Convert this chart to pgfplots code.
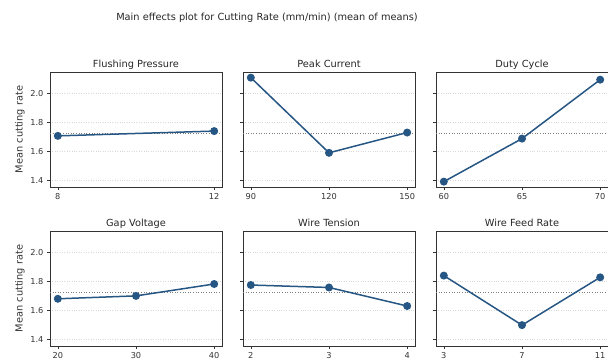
\documentclass[border=0pt]{standalone}
\usepackage{pgfplots}
\pgfplotsset{compat=1.18}
\usepackage{fontspec}
\setmainfont{DejaVu Sans}
\definecolor{lc}{RGB}{38,86,132}
\newcommand{\tickfont}{\fontsize{8.2}{10}\selectfont}
\newcommand{\titlefont}{\fontsize{9.8}{12}\selectfont}
\pgfplotsset{
  me/.style={
    scale only axis, width=172pt, height=115pt,
    anchor=south west,
    ymin=1.356, ymax=2.150,
    ytick={1.4,1.6,1.8,2.0},
    /pgf/number format/assume math mode=true,
    yticklabel style={/pgf/number format/fixed,/pgf/number format/fixed zerofill,/pgf/number format/precision=1},
    ymajorgrids, y grid style={dotted, gray!30, line width=0.5pt},
    tick align=outside, tick pos=left,
    major tick length=3pt,
    every tick/.style={black!80, line width=0.6pt},
    axis line style={black!80, line width=0.7pt},
    tick label style={font=\tickfont, text=black!80},
    label style={font=\titlefont, text=black!80},
    ylabel style={yshift=-1pt},
    title style={font=\titlefont, text=black!85, at={(0.5,1)}, anchor=base, yshift=-1.5pt},
    xticklabel style={/pgf/number format/1000 sep={}},
  },
  noyl/.style={yticklabels={}},
  dat/.style={lc, line width=1.5pt, mark=*, mark size=3.2pt, mark options={fill=lc, draw=lc}},
  mn/.style={black!50, dotted, line width=0.6pt},
}
\begin{document}
\begin{tikzpicture}
\useasboundingbox (0pt,0pt) rectangle (608pt,363pt);
\node[font=\titlefont, text=black!85] at (267pt,345pt) {Main effects plot for Cutting Rate (mm/min) (mean of means)};
% Row 1
\begin{axis}[me, at={(50pt,176pt)}, title={Flushing Pressure}, ylabel={Mean cutting rate},
  xmin=7.8, xmax=12.2, xtick={8,12}]
\addplot[mn] coordinates {(7.8,1.727) (12.2,1.727)};
\addplot[dat] coordinates {(8,1.709) (12,1.742)};
\end{axis}
\begin{axis}[me, noyl, at={(243pt,176pt)}, title={Peak Current},
  xmin=87, xmax=153, xtick={90,120,150}]
\addplot[mn] coordinates {(87,1.727) (153,1.727)};
\addplot[dat] coordinates {(90,2.111) (120,1.592) (150,1.732)};
\end{axis}
\begin{axis}[me, noyl, at={(436pt,176pt)}, title={Duty Cycle},
  xmin=59.5, xmax=70.5, xtick={60,65,70}]
\addplot[mn] coordinates {(59.5,1.727) (70.5,1.727)};
\addplot[dat] coordinates {(60,1.393) (65,1.690) (70,2.097)};
\end{axis}
% Row 2
\begin{axis}[me, at={(50pt,17pt)}, title={Gap Voltage}, ylabel={Mean cutting rate},
  xmin=19, xmax=41, xtick={20,30,40}]
\addplot[mn] coordinates {(19,1.727) (41,1.727)};
\addplot[dat] coordinates {(20,1.682) (30,1.702) (40,1.784)};
\end{axis}
\begin{axis}[me, noyl, at={(243pt,17pt)}, title={Wire Tension},
  xmin=1.9, xmax=4.1, xtick={2,3,4}]
\addplot[mn] coordinates {(1.9,1.727) (4.1,1.727)};
\addplot[dat] coordinates {(2,1.777) (3,1.760) (4,1.632)};
\end{axis}
\begin{axis}[me, noyl, at={(436pt,17pt)}, title={Wire Feed Rate},
  xmin=2.6, xmax=11.4, xtick={3,7,11}]
\addplot[mn] coordinates {(2.6,1.727) (11.4,1.727)};
\addplot[dat] coordinates {(3,1.842) (7,1.500) (11,1.830)};
\end{axis}
\end{tikzpicture}
\end{document}
